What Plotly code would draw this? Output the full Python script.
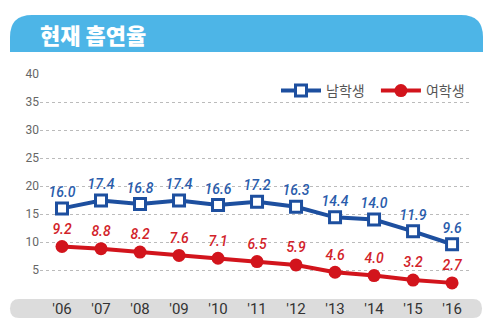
import plotly.graph_objects as go

years = ["'06", "'07", "'08", "'09", "'10", "'11", "'12", "'13", "'14", "'15", "'16"]
male = [16.0, 17.4, 16.8, 17.4, 16.6, 17.2, 16.3, 14.4, 14.0, 11.9, 9.6]
female = [9.2, 8.8, 8.2, 7.6, 7.1, 6.5, 5.9, 4.6, 4.0, 3.2, 2.7]
y_ticks = [5, 10, 15, 20, 25, 30, 35, 40]

W, H = 500, 336
L, R, T, B = 40, 30, 74, 38
PW, PH = W - L - R, H - T - B

def px(x):
    return (x - L) / PW

def py(y):
    return (H - B - y) / PH

BLUE = "#1d4f9f"
RED = "#d2141c"
idx = list(range(len(years)))

fig = go.Figure()
fig.add_trace(go.Scatter(
    x=idx, y=male, name="남학생  ", mode="lines+markers+text",
    line=dict(color=BLUE, width=4),
    marker=dict(symbol="square", size=11, color="white", line=dict(color=BLUE, width=3)),
    text=[f"{v:.1f}" for v in male], textposition="top center",
    textfont=dict(family="Roboto", size=14, color="#2a5cab", style="italic", weight=500),
))
fig.add_trace(go.Scatter(
    x=idx, y=female, name="여학생", mode="lines+markers+text",
    line=dict(color=RED, width=4),
    marker=dict(symbol="circle", size=13, color=RED),
    text=[f"{v:.1f}" for v in female], textposition="top center",
    textfont=dict(family="Roboto", size=14, color="#d2232a", style="italic", weight=500),
))

shapes = []
# title banner with rounded top corners
x0, x1, y0, y1 = px(10), px(483), py(52), py(15)
rx = 22 / PW
ry = 22 / PH
path = (f"M {x0},{y0} L {x0},{y1 - ry} Q {x0},{y1} {x0 + rx},{y1} "
        f"L {x1 - rx},{y1} Q {x1},{y1} {x1},{y1 - ry} L {x1},{y0} Z")
shapes.append(dict(type="path", xref="paper", yref="paper", path=path,
                   fillcolor="#4db5e7", line=dict(width=0), layer="below"))
# gray x label bar with rounded ends
gx0, gx1, gy0, gy1 = px(10), px(482), py(318), py(299)
r2x = 9 / PW
ymid = (gy0 + gy1) / 2
gpath = (f"M {gx0 + r2x},{gy0} L {gx1 - r2x},{gy0} Q {gx1},{gy0} {gx1},{ymid} "
         f"Q {gx1},{gy1} {gx1 - r2x},{gy1} L {gx0 + r2x},{gy1} Q {gx0},{gy1} {gx0},{ymid} "
         f"Q {gx0},{gy0} {gx0 + r2x},{gy0} Z")
shapes.append(dict(type="path", xref="paper", yref="paper", path=gpath,
                   fillcolor="#dcdcdc", line=dict(width=0), layer="below"))

fig.update_layout(
    width=W, height=H,
    margin=dict(l=L, r=R, t=T, b=B),
    paper_bgcolor="white", plot_bgcolor="white",
    shapes=shapes,
    showlegend=True,
    legend=dict(orientation="h", x=px(276), y=py(91), xanchor="left", yanchor="middle",
                font=dict(family="Noto Sans CJK KR", size=14, color="#555555"),
                bgcolor="rgba(0,0,0,0)", itemwidth=40, tracegroupgap=0),
    annotations=[dict(text="현재 흡연율", xref="paper", yref="paper",
                      x=px(38), y=py(34), xanchor="left", yanchor="middle", showarrow=False,
                      font=dict(family="Noto Sans CJK KR", size=22, color="white", weight=900))],
    xaxis=dict(range=[-0.564, 10.46], tickvals=idx, ticktext=years, showgrid=False,
               zeroline=False, showline=False, ticks="",
               tickfont=dict(family="Roboto", size=15, color="#333333")),
    yaxis=dict(range=[0, 40], tickvals=y_ticks, showgrid=True, griddash="dot",
               gridcolor="#bbbbbb", gridwidth=1, zeroline=False, showline=False,
               ticks="", tickfont=dict(family="Roboto", size=12, color="#666666")),
)

fig.write_html("out.html")
